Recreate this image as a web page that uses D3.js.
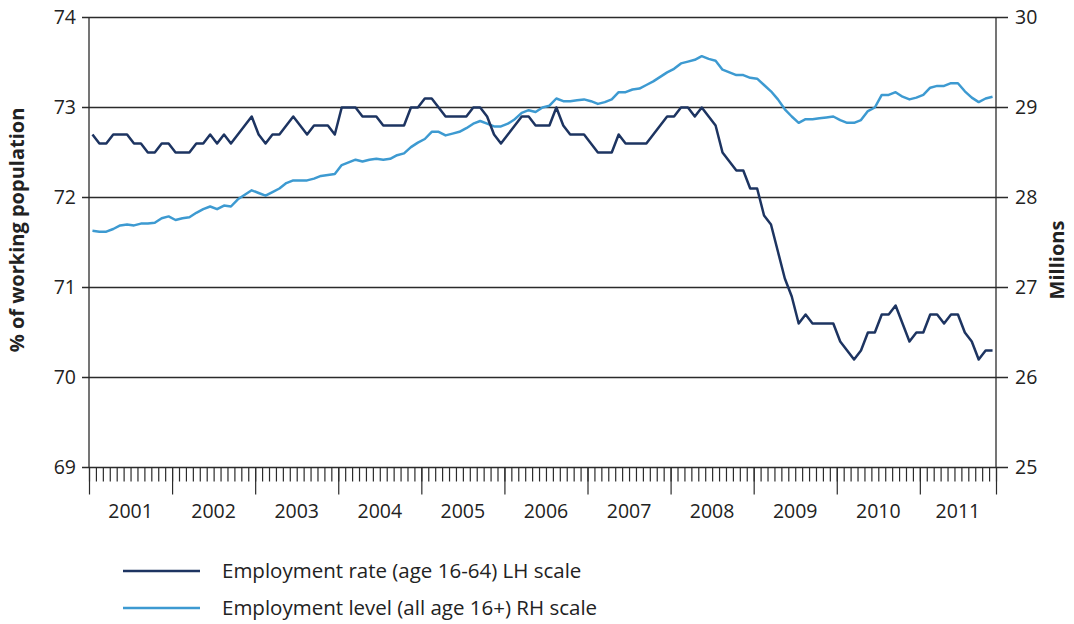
<!DOCTYPE html>
<html>
<head>
<meta charset="utf-8">
<script src="https://cdn.jsdelivr.net/npm/d3@7"></script>
<style>
  body { margin: 0; background: #fff; }
  svg { display: block; font-family: "Open Sans", "Noto Sans", sans-serif; }
</style>
</head>
<body>
<svg id="chart" width="1074" height="624"></svg>
<script>
const width = 1074;
const height = 624;

// monthly, Jan 2001 .. Nov 2011
const startYear = 2001;
const years = ["2001", "2002", "2003", "2004", "2005", "2006", "2007", "2008", "2009", "2010", "2011"];

// Employment rate (age 16-64), % - LH scale
const rate = [
  72.7, 72.6, 72.6, 72.7, 72.7, 72.7, 72.6, 72.6, 72.5, 72.5, 72.6, 72.6,
  72.5, 72.5, 72.5, 72.6, 72.6, 72.7, 72.6, 72.7, 72.6, 72.7, 72.8, 72.9,
  72.7, 72.6, 72.7, 72.7, 72.8, 72.9, 72.8, 72.7, 72.8, 72.8, 72.8, 72.7,
  73.0, 73.0, 73.0, 72.9, 72.9, 72.9, 72.8, 72.8, 72.8, 72.8, 73.0, 73.0,
  73.1, 73.1, 73.0, 72.9, 72.9, 72.9, 72.9, 73.0, 73.0, 72.9, 72.7, 72.6,
  72.7, 72.8, 72.9, 72.9, 72.8, 72.8, 72.8, 73.0, 72.8, 72.7, 72.7, 72.7,
  72.6, 72.5, 72.5, 72.5, 72.7, 72.6, 72.6, 72.6, 72.6, 72.7, 72.8, 72.9,
  72.9, 73.0, 73.0, 72.9, 73.0, 72.9, 72.8, 72.5, 72.4, 72.3, 72.3, 72.1,
  72.1, 71.8, 71.7, 71.4, 71.1, 70.9, 70.6, 70.7, 70.6, 70.6, 70.6, 70.6,
  70.4, 70.3, 70.2, 70.3, 70.5, 70.5, 70.7, 70.7, 70.8, 70.6, 70.4, 70.5,
  70.5, 70.7, 70.7, 70.6, 70.7, 70.7, 70.5, 70.4, 70.2, 70.3, 70.3
];

// Employment level (all age 16+), millions - RH scale
const level = [
  27.63, 27.62, 27.62, 27.65, 27.69, 27.70, 27.69, 27.71, 27.71, 27.72, 27.77, 27.79,
  27.75, 27.77, 27.78, 27.83, 27.87, 27.90, 27.87, 27.91, 27.90, 27.98, 28.03, 28.08,
  28.05, 28.02, 28.06, 28.10, 28.16, 28.19, 28.19, 28.19, 28.21, 28.24, 28.25, 28.26,
  28.36, 28.39, 28.42, 28.40, 28.42, 28.43, 28.42, 28.43, 28.47, 28.49, 28.56, 28.61,
  28.65, 28.73, 28.73, 28.69, 28.71, 28.73, 28.77, 28.82, 28.85, 28.82, 28.79, 28.79,
  28.82, 28.87, 28.94, 28.97, 28.95, 29.00, 29.02, 29.10, 29.07, 29.07, 29.08, 29.09,
  29.07, 29.04, 29.06, 29.09, 29.17, 29.17, 29.20, 29.21, 29.25, 29.29, 29.34, 29.39,
  29.43, 29.49, 29.51, 29.53, 29.57, 29.54, 29.52, 29.42, 29.39, 29.36, 29.36, 29.33,
  29.32, 29.25, 29.18, 29.09, 28.98, 28.90, 28.83, 28.87, 28.87, 28.88, 28.89, 28.90,
  28.86, 28.83, 28.83, 28.86, 28.96, 29.00, 29.14, 29.14, 29.17, 29.12, 29.09, 29.11,
  29.14, 29.22, 29.24, 29.24, 29.27, 29.27, 29.18, 29.11, 29.06, 29.10, 29.12
];

const leftTicks = [69, 70, 71, 72, 73, 74];
const rightTicks = [25, 26, 27, 28, 29, 30];

const plot = { left: 89, right: 996, top: 17.5, bottom: 467.5 };
const nMonths = 131;

const rateColor = "#1d3461";
const levelColor = "#3d9ad1";

const svg = d3.select("#chart");

const x = d3.scaleLinear().domain([0, nMonths]).range([plot.left, plot.right]);
const yL = d3.scaleLinear().domain([69, 74]).range([plot.bottom, plot.top]);
const yR = d3.scaleLinear().domain([25, 30]).range([plot.bottom, plot.top]);

// gridlines (extend past both axes as ticks)
svg.append("g")
    .selectAll("line")
    .data(leftTicks)
    .enter().append("line")
    .attr("x1", plot.left - 7)
    .attr("x2", plot.right + 12)
    .attr("y1", d => yL(d))
    .attr("y2", d => yL(d))
    .attr("stroke", "#2b2b2b")
    .attr("stroke-width", 1.3);

// left tick labels
svg.append("g")
    .selectAll("text")
    .data(leftTicks)
    .enter().append("text")
    .attr("x", 76)
    .attr("y", d => yL(d))
    .attr("dy", "0.35em")
    .attr("text-anchor", "end")
    .attr("font-size", 19.5)
    .attr("fill", "#222")
    .text(d => d);

// right tick labels
svg.append("g")
    .selectAll("text")
    .data(rightTicks)
    .enter().append("text")
    .attr("x", 1015)
    .attr("y", d => yR(d))
    .attr("dy", "0.35em")
    .attr("font-size", 19.5)
    .attr("fill", "#222")
    .text(d => d);

// vertical axis lines
[plot.left, plot.right].forEach(px => {
    svg.append("line")
        .attr("x1", px).attr("x2", px)
        .attr("y1", plot.top).attr("y2", plot.bottom)
        .attr("stroke", "#2b2b2b")
        .attr("stroke-width", 1.3);
});

// month ticks and year ticks
const monthAxis = d3.axisBottom(x)
    .tickValues(d3.range(0, nMonths + 1))
    .tickSize(14)
    .tickFormat("");
const yearAxis = d3.axisBottom(x)
    .tickValues(d3.range(0, nMonths + 1, 12).concat([nMonths]))
    .tickSize(27)
    .tickFormat("");

[monthAxis, yearAxis].forEach(ax => {
    const g = svg.append("g")
        .attr("transform", `translate(0,${plot.bottom})`)
        .call(ax);
    g.select(".domain").remove();
    g.selectAll("line").attr("stroke", "#2b2b2b").attr("stroke-width", 1.2);
});

// year labels centred in their year
svg.append("g")
    .selectAll("text")
    .data(years)
    .enter().append("text")
    .attr("x", (d, i) => x(Math.min(i * 12 + 6, (i * 12 + nMonths) / 2)))
    .attr("y", 518)
    .attr("text-anchor", "middle")
    .attr("font-size", 19.5)
    .attr("fill", "#222")
    .text(d => d);

// axis titles
svg.append("text")
    .attr("transform", "translate(24,230) rotate(-90)")
    .attr("text-anchor", "middle")
    .attr("font-size", 20)
    .attr("font-weight", "bold")
    .attr("fill", "#222")
    .text("% of working population");

svg.append("text")
    .attr("transform", "translate(1064,260) rotate(-90)")
    .attr("text-anchor", "middle")
    .attr("font-size", 20)
    .attr("font-weight", "bold")
    .attr("fill", "#222")
    .text("Millions");

// lines
const lineL = d3.line().x((d, i) => x(i + 0.5)).y(d => yL(d));
const lineR = d3.line().x((d, i) => x(i + 0.5)).y(d => yR(d));

svg.append("path")
    .datum(level)
    .attr("d", lineR)
    .attr("fill", "none")
    .attr("stroke", levelColor)
    .attr("stroke-width", 2.5)
    .attr("stroke-linejoin", "round");

svg.append("path")
    .datum(rate)
    .attr("d", lineL)
    .attr("fill", "none")
    .attr("stroke", rateColor)
    .attr("stroke-width", 2.5)
    .attr("stroke-linejoin", "round");

// legend
const legend = [
    { label: "Employment rate (age 16-64) LH scale", color: rateColor, y: 571 },
    { label: "Employment level (all age 16+) RH scale", color: levelColor, y: 608 }
];
const lg = svg.append("g")
    .selectAll("g")
    .data(legend)
    .enter().append("g");
lg.append("line")
    .attr("x1", 123).attr("x2", 200)
    .attr("y1", d => d.y).attr("y2", d => d.y)
    .attr("stroke", d => d.color)
    .attr("stroke-width", 2.5);
lg.append("text")
    .attr("x", 222)
    .attr("y", d => d.y)
    .attr("dy", "0.35em")
    .attr("font-size", 20.5)
    .attr("fill", "#222")
    .text(d => d.label);
</script>
</body>
</html>
